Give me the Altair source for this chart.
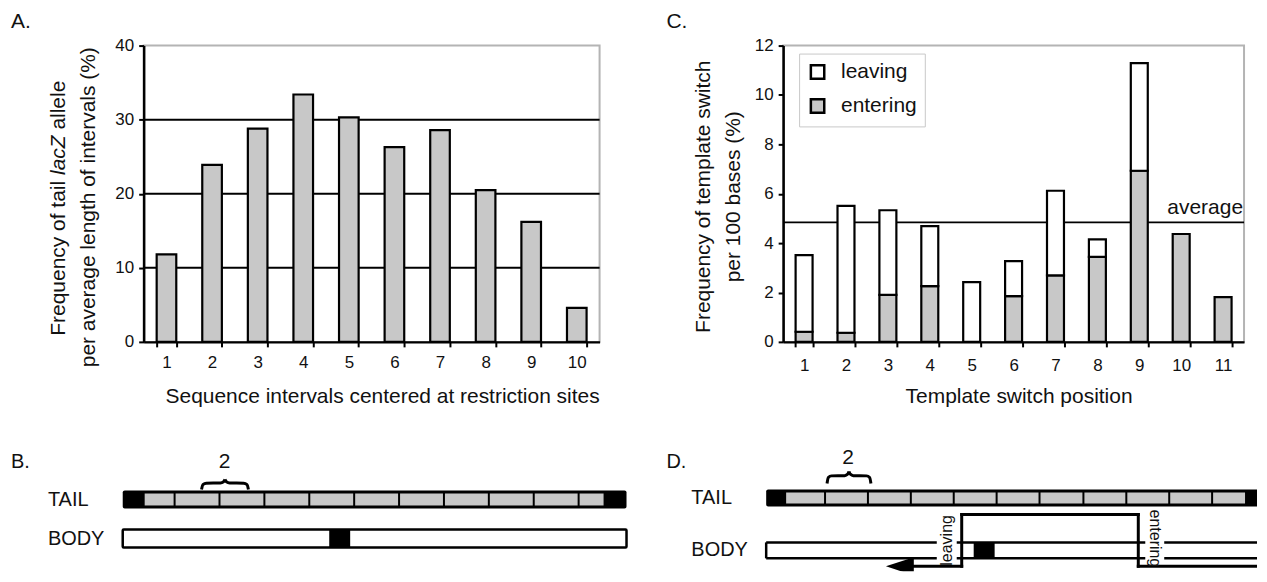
import altair as alt
import pandas as pd

FONT = "Liberation Sans"
INK = "#111111"
GREY = "#c8c8c8"
BORDER = "#b4b4b4"

# ---------------- Panel A: frequency per interval ----------------
A_INTERVALS = ["1", "2", "3", "4", "5", "6", "7", "8", "9", "10"]
A_FREQ = [11.8, 23.9, 28.8, 33.4, 30.3, 26.3, 28.6, 20.5, 16.2, 4.6]
A_GRID = [10, 20, 30]
A_YTICKS = [0, 10, 20, 30, 40]
A_YTITLE_PARTS = ["Frequency of tail", "lacZ", "allele"]
A_YTITLE_ITALIC = [False, True, False]
A_YTITLE_LINE2 = "per average length of intervals (%)"
A_XTITLE = "Sequence intervals centered at restriction sites"

# ---------------- Panel C: template switch frequency ----------------
C_POSITIONS = ["1", "2", "3", "4", "5", "6", "7", "8", "9", "10", "11"]
C_ENTERING = [0.41, 0.37, 1.90, 2.26, 0.00, 1.85, 2.69, 3.44, 6.93, 4.37, 1.81]
C_LEAVING = [3.10, 5.14, 3.43, 2.43, 2.42, 1.42, 3.43, 0.71, 4.36, 0.00, 0.00]
C_KINDS = ["leaving", "entering"]
C_AVERAGE = [4.84]
C_AVG_LABEL = ["average"]
C_YTICKS = [0, 2, 4, 6, 8, 10, 12]
C_YTITLE = ["Frequency of template switch", "per 100 bases (%)"]
C_XTITLE = "Template switch position"

# ---------------- Panels B and D: schematics (figure units) ----------------
B_SITES = [174, 219, 264, 309, 354, 399, 444, 489, 534, 579]
B_TAIL_SPAN = [122, 627]
B_GREY_SPAN = [143, 605]
B_BLOCK = [329, 350]
B_BRACE = [201, 248]
D_SITES = [826, 869, 912, 955, 998, 1041, 1085, 1128, 1171, 1214]
D_TAIL_SPAN = [767, 1259]
D_GREY_SPAN = [786, 1248]
D_BLOCK = [975, 996]
D_BRACE = [828, 872]
D_BODY_Y = [543, 559]
D_BODY_PIECES = [[767, 938], [958, 1147], [1166, 1259]]
D_PATH_X = [901, 963, 963, 1140, 1140, 1262]
D_PATH_Y = [567, 567, 515, 515, 567, 567]
BRACE_FX = [0.0, 0.03, 0.10, 0.40, 0.47, 0.50]
BRACE_FY = [0.0, 0.50, 0.64, 0.66, 0.78, 1.0]

# ---------------- layout ----------------
A_LEFT, A_W = 143, 457
C_LEFT, C_W = 784, 462
PLOT_TOP, PLOT_H = 45, 297
DIAG_TOP, DIAG_H = 440, 132
D_W = 1259 - C_LEFT
TITLE_FS = 21

# Arial / Liberation Sans advance widths (1/1000 em) for the title characters
ADV = {"F": 611, "r": 333, "e": 556, "q": 556, "u": 556, "n": 556, "c": 500, "y": 500,
       " ": 278, "o": 556, "f": 278, "t": 278, "a": 556, "i": 222, "l": 222, "Z": 611}


def tw(s, fs):
    return sum(ADV.get(ch, 556) for ch in s) / 1000.0 * fs


# ================= Panel A =================
dfA = pd.DataFrame({"interval": A_INTERVALS, "freq": A_FREQ})
xA = alt.X("interval:N", sort=A_INTERVALS,
           scale=alt.Scale(paddingInner=0.57, paddingOuter=0.285),
           axis=alt.Axis(title=A_XTITLE, labelAngle=0, tickBand="extent",
                         labelPadding=8, titleX=239, titleY=55))
yA = alt.Y("freq:Q", scale=alt.Scale(domain=[0, 40], nice=False),
           axis=alt.Axis(values=A_YTICKS, title=None))
gridA = alt.Chart(pd.DataFrame({"freq": A_GRID})).mark_rule(
    color="black", strokeWidth=2).encode(y=yA)
barsA = alt.Chart(dfA).mark_bar(fill=GREY, stroke="black", strokeWidth=2.2).encode(x=xA, y=yA)
labA = alt.Chart(pd.DataFrame({"t": ["A."]})).mark_text(
    align="left", baseline="middle", fontSize=21, color=INK).encode(
    text="t:N", x=alt.value(10 - A_LEFT), y=alt.value(21 - PLOT_TOP))

# rotated two-line y title, with italic gene name
title_layers = []
line1_center = 208 - PLOT_TOP
space = tw(" ", TITLE_FS)
total = sum(tw(p, TITLE_FS) for p in A_YTITLE_PARTS) + space * (len(A_YTITLE_PARTS) - 1)
pos = line1_center + total / 2
for part, ital in zip(A_YTITLE_PARTS, A_YTITLE_ITALIC):
    title_layers.append(
        alt.Chart(pd.DataFrame({"t": [part]})).mark_text(
            align="left", baseline="middle", angle=270, fontSize=TITLE_FS, color=INK,
            fontStyle="italic" if ital else "normal").encode(
            text="t:N", x=alt.value(58 - A_LEFT), y=alt.value(pos)))
    pos -= tw(part, TITLE_FS) + space
title_layers.append(
    alt.Chart(pd.DataFrame({"t": [A_YTITLE_LINE2]})).mark_text(
        align="center", baseline="middle", angle=270, fontSize=TITLE_FS, color=INK).encode(
        text="t:N", x=alt.value(88 - A_LEFT), y=alt.value(207 - PLOT_TOP)))

chartA = alt.layer(gridA, barsA, labA, *title_layers).properties(
    width=A_W, height=PLOT_H, view=alt.ViewBackground(stroke=BORDER, strokeWidth=2))

# ================= Panel C =================
rows = []
for p, ent, lea in zip(C_POSITIONS, C_ENTERING, C_LEAVING):
    rows.append({"position": p, "kind": "entering", "value": ent, "rank": 0})
    rows.append({"position": p, "kind": "leaving", "value": lea, "rank": 1})
dfC = pd.DataFrame(rows)
xC = alt.X("position:N", sort=C_POSITIONS,
           scale=alt.Scale(paddingInner=0.595, paddingOuter=0.2975),
           axis=alt.Axis(title=C_XTITLE, labelAngle=0, tickBand="extent",
                         labelPadding=11, titleX=236, titleY=55))
yC_scale = alt.Scale(domain=[0, 12], nice=False)
yC_axis = alt.Axis(values=C_YTICKS, title=C_YTITLE, titleX=-80, titleY=151)
avgC = alt.Chart(pd.DataFrame({"value": C_AVERAGE})).mark_rule(
    color="black", strokeWidth=2).encode(y=alt.Y("value:Q", scale=yC_scale, axis=yC_axis))
barsC = alt.Chart(dfC).transform_filter("datum.value > 0").mark_bar(
    stroke="black", strokeWidth=2.2).encode(
    x=xC,
    y=alt.Y("value:Q", stack="zero", scale=yC_scale, axis=yC_axis),
    fill=alt.Fill("kind:N", scale=alt.Scale(domain=C_KINDS, range=["#ffffff", GREY]),
                  legend=alt.Legend(title=None, orient="none",
                                    legendX=800 - A_LEFT, legendY=53 - PLOT_TOP,
                                    symbolType="square", symbolSize=180,
                                    symbolStrokeColor="black", symbolStrokeWidth=2.5,
                                    labelFontSize=21, labelFont=FONT, labelColor=INK,
                                    padding=8, rowPadding=9, labelOffset=13,
                                    fillColor="white", strokeColor="#c8c8c8")),
    order=alt.Order("rank:Q"))
avgTxt = alt.Chart(pd.DataFrame({"value": C_AVERAGE, "label": C_AVG_LABEL})).mark_text(
    align="right", baseline="alphabetic", dy=-8, fontSize=21, color=INK).encode(
    y=alt.Y("value:Q", scale=yC_scale, axis=yC_axis), x=alt.value(C_W - 1), text="label:N")
labC = alt.Chart(pd.DataFrame({"t": ["C."]})).mark_text(
    align="left", baseline="middle", fontSize=21, color=INK).encode(
    text="t:N", x=alt.value(667 - C_LEFT), y=alt.value(21 - PLOT_TOP))
chartC = alt.layer(avgC, barsC, avgTxt, labC).properties(
    width=C_W, height=PLOT_H, view=alt.ViewBackground(stroke=BORDER, strokeWidth=2))

# ================= Schematics =================
YS = alt.Scale(domain=[DIAG_TOP, DIAG_TOP + DIAG_H], nice=False, zero=False, reverse=True)


def xy(xs):
    return dict(x=alt.X("x:Q", scale=xs, axis=None), y=alt.Y("y:Q", scale=YS, axis=None))


def rects(df, xs, **kw):
    return alt.Chart(df).mark_rect(**kw).encode(x2="x2:Q", y2="y2:Q", **xy(xs))


def segs(df, xs, **kw):
    return alt.Chart(df).mark_rule(**kw).encode(x2="x2:Q", y2="y2:Q", **xy(xs))


def texts(df, xs, **kw):
    return alt.Chart(df).mark_text(color=INK, **kw).encode(text="t:N", **xy(xs))


def brace(xs, span, base, h):
    x0, x1 = span
    recs = []
    for i, (fx, fy) in enumerate(zip(BRACE_FX, BRACE_FY)):
        recs.append({"x": x0 + fx * (x1 - x0), "y": base - fy * h, "half": "L", "i": i})
        recs.append({"x": x1 - fx * (x1 - x0), "y": base - fy * h, "half": "R", "i": -i})
    return alt.Chart(pd.DataFrame(recs)).mark_line(
        interpolate="monotone", color="black", strokeWidth=3).encode(
        detail="half:N", order="i:Q", **xy(xs))


def tail(xs, span, grey, sites, top, bottom, **outer_kw):
    bounds = [grey[0]] + sites + [grey[1]]
    n = len(bounds) - 1
    outer = pd.DataFrame({"x": [span[0]], "x2": [span[1]], "y": [top], "y2": [bottom]})
    inner = pd.DataFrame({"x": [b + 1 for b in bounds[:-1]], "x2": [b - 1 for b in bounds[1:]],
                          "y": [top + 3] * n, "y2": [bottom - 3] * n})
    return [rects(outer, xs, color="black", **outer_kw), rects(inner, xs, color=GREY)]


# ---- B ----
XB = alt.Scale(domain=[A_LEFT, A_LEFT + A_W], nice=False, zero=False)
b_layers = []
b_layers += tail(XB, B_TAIL_SPAN, B_GREY_SPAN, B_SITES, 491, 509, cornerRadius=2)
b_layers.append(rects(pd.DataFrame({"x": [B_TAIL_SPAN[0]], "x2": [B_TAIL_SPAN[1]],
                                    "y": [530], "y2": [548]}), XB,
                      fill="white", stroke="black", strokeWidth=2.5, cornerRadius=1))
b_layers.append(rects(pd.DataFrame({"x": [B_BLOCK[0]], "x2": [B_BLOCK[1]],
                                    "y": [530], "y2": [548]}), XB, color="black"))
b_layers.append(brace(XB, B_BRACE, 490, 10))
b_layers.append(texts(pd.DataFrame({"t": ["B.", "TAIL", "BODY"], "x": [10, 47, 47],
                                    "y": [462, 501, 540]}), XB,
                      align="left", baseline="middle", fontSize=20))
b_layers.append(texts(pd.DataFrame({"t": ["2"], "x": [224], "y": [462]}), XB,
                      align="center", baseline="middle", fontSize=21))
chartB = alt.layer(*b_layers).properties(width=A_W, height=DIAG_H)

# ---- D ----
XD = alt.Scale(domain=[C_LEFT, C_LEFT + D_W], nice=False, zero=False)
d_layers = []
d_layers += tail(XD, D_TAIL_SPAN, D_GREY_SPAN, D_SITES, 490, 507,
                 cornerRadiusTopLeft=2, cornerRadiusBottomLeft=2)
d_layers.append(rects(pd.DataFrame({"x": [D_BLOCK[0]], "x2": [D_BLOCK[1]],
                                    "y": [D_BODY_Y[0]], "y2": [D_BODY_Y[1]]}), XD, color="black"))
seg_rows = []
for a, b in D_BODY_PIECES:
    for yy in D_BODY_Y:
        seg_rows.append({"x": a, "x2": b, "y": yy, "y2": yy})
seg_rows.append({"x": D_BODY_PIECES[0][0], "x2": D_BODY_PIECES[0][0],
                 "y": D_BODY_Y[0], "y2": D_BODY_Y[1]})
d_layers.append(segs(pd.DataFrame(seg_rows), XD, color="black", strokeWidth=2.5))
path_rows = []
for k in range(len(D_PATH_X) - 1):
    path_rows.append({"x": D_PATH_X[k], "x2": D_PATH_X[k + 1],
                      "y": D_PATH_Y[k], "y2": D_PATH_Y[k + 1]})
d_layers.append(segs(pd.DataFrame(path_rows), XD, color="black", strokeWidth=3,
                     strokeCap="square", clip=True))
d_layers.append(alt.Chart(pd.DataFrame({"x": [D_PATH_X[0]], "y": [D_PATH_Y[0]]})).mark_point(
    shape="M-1,0L1,-0.65L1,0.65Z", size=784, filled=True, color="black", opacity=1,
    clip=True).encode(**xy(XD)))
d_layers.append(brace(XD, D_BRACE, 484, 12))
d_layers.append(texts(pd.DataFrame({"t": ["D.", "TAIL", "BODY"], "x": [667, 692, 692],
                                    "y": [462, 499, 551]}), XD,
                      align="left", baseline="middle", fontSize=20))
d_layers.append(texts(pd.DataFrame({"t": ["2"], "x": [849], "y": [458]}), XD,
                      align="center", baseline="middle", fontSize=21))
d_layers.append(texts(pd.DataFrame({"t": ["leaving"], "x": [948], "y": [541]}), XD,
                      align="center", baseline="middle", fontSize=16, angle=270))
d_layers.append(texts(pd.DataFrame({"t": ["entering"], "x": [1157], "y": [539]}), XD,
                      align="center", baseline="middle", fontSize=16, angle=90))
chartD = alt.layer(*d_layers).properties(width=D_W, height=DIAG_H)

# ================= assemble =================
chart = alt.concat(
    chartA, chartC, chartB, chartD, columns=2,
    spacing={"row": DIAG_TOP - PLOT_TOP - PLOT_H, "column": C_LEFT - A_LEFT - A_W},
    bounds="flush", align="each",
).properties(
    padding={"left": 2, "top": 1, "right": 0, "bottom": 0}, background="white"
).configure(font=FONT).configure_view(stroke="transparent").configure_axis(
    domainColor="black", domainWidth=2.5, tickColor="black", tickWidth=2, tickSize=5,
    labelFont=FONT, labelFontSize=17, labelColor=INK, grid=False,
    titleFont=FONT, titleFontSize=TITLE_FS, titleFontWeight="normal", titleColor=INK,
    titleAlign="center", titleBaseline="middle", titleLineHeight=30
).configure_axisY(labelPadding=5, titleAngle=270)

chart.save("out.html", embed_options={"renderer": "svg", "actions": False})
